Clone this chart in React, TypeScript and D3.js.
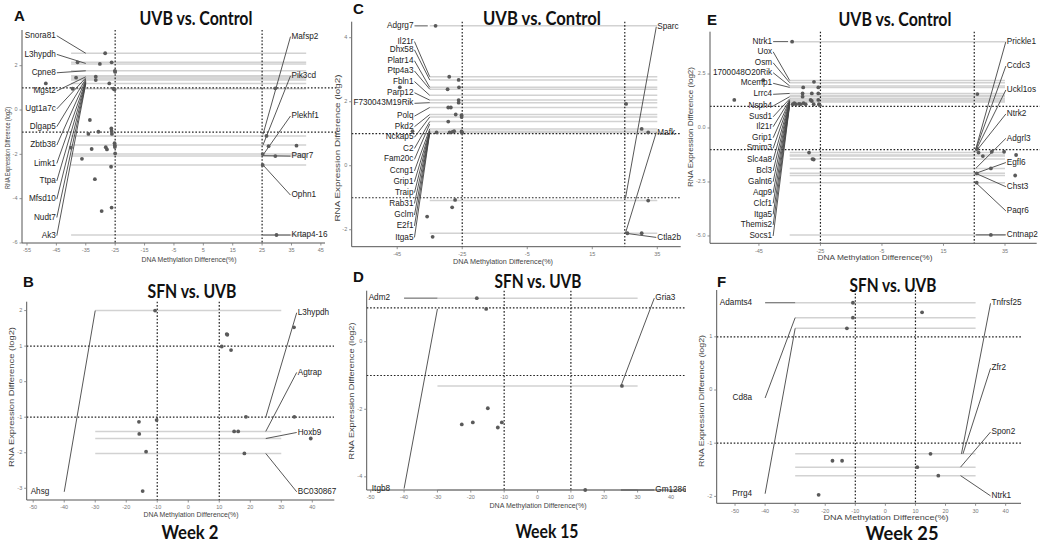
import React from 'react';
import * as d3 from 'd3';

type Pt = [number, number];
type Lab = [string, number, number, number]; // gene, label y, target x, target y

// ---------- Panel A (UVB vs. Control, week 2) ----------
const aPoints: Pt[] = [
  [-28.4, 2.56], [-37.8, 2.15], [-30.2, 2.08], [-26.2, 2.15], [-25.1, 1.77], [-25.0, 1.72],
  [-31.6, 1.5], [-31.6, 1.35], [-48.6, 1.2], [-27, 1.2], [-39.5, 0.96], [-25.6, 0.96],
  [-25.2, 0.92], [-38.3, 1.46], [-33.6, -0.45], [-34.1, -1.08], [-30.7, -0.98], [-26.3, -0.83],
  [-26.2, -0.95], [-26.1, -1.08], [-25.2, -1.5], [-25.1, -1.6], [-25.1, -1.67], [-40.1, -1.7],
  [-33, -1.76], [-28.2, -1.68], [-27.8, -1.78], [-25, -1.96], [-36.3, -2.2], [-26.4, -2.56],
  [-31.9, -3.12], [-29.6, -4.56], [-26.2, -4.4],
  [29.5, 0.98], [26.5, -1.17], [27.2, -1.63], [36.7, -1.61], [25.2, -1.99], [29.5, -2.08],
  [25.2, -2.48], [29.9, -5.64],
];
const aGuides = [2.56, 2.15, 2.08, 1.77, 1.55, 1.5, 1.45, 1.4, 1.35, 1.2, 0.96, -1.17, -1.58, -1.99, -2.08, -2.48, -5.64];
const aLeft: Lab[] = [
  ['Snora81', 3.35, -35, 2.56], ['L3hypdh', 2.51, -35, 2.1], ['Cpne8', 1.68, -35, 1.77],
  ['Mgst2', 0.86, -35, 1.5], ['Ugt1a7c', 0.05, -35, 1.45], ['Dlgap5', -0.75, -35, 1.4],
  ['Zbtb38', -1.58, -35, 1.35], ['Limk1', -2.41, -35, 1.3], ['Ttpa', -3.2, -35, 1.27],
  ['Mfsd10', -4.02, -35, 1.24], ['Nudt7', -4.85, -35, 1.21], ['Ak3', -5.67, -35, 1.18],
];
const aRight: Lab[] = [
  ['Mafsp2', 3.31, 25.3, -1.1], ['Pik3cd', 1.54, 25.3, -1.58], ['Plekhf1', -0.27, 25.3, -2.03],
  ['Paqr7', -2.08, 25.3, -2.06], ['Ophn1', -3.84, 25.3, -2.48], ['Krtap4-16', -5.64, 25.3, -5.64],
];
const aXTicks = [-55, -45, -35, -25, -15, -5, 5, 15, 25, 35, 45];
const aYTicks = [-6, -4, -2, 0, 2];

// ---------- Panel C (UVB vs. Control, week 15) ----------
const cPoints: Pt[] = [
  [-33.2, 4.37], [-29, 2.78], [-26.1, 2.68], [-29.5, 2.39], [-26, 2.45], [-26.1, 2.05],
  [-26.1, 1.97], [-29.3, 1.82], [-28.5, 1.82], [-27, 1.6], [-25.2, 1.58], [-25.2, 1.52],
  [-29.3, 1.38], [-44.2, 2.45], [-40.3, 1.08], [-32.9, 1.04], [-28.9, 1.04], [-28, 1.06],
  [-27.5, 1.08], [-25.2, 1.07], [-25, 1.03], [-27.2, -1.07], [-28.1, -1.3], [-35.8, -1.59],
  [-34.1, -2.22],
  [25.4, 1.93], [30.2, 1.15], [32.2, 1.04], [32.2, -1.09], [25.8, -2.11], [30.2, -2.11],
];
const cGuides = [4.37, 2.78, 2.68, 2.45, 2.39, 2.2, 2.05, 1.97, 1.82, 1.6, 1.52, 1.38, 1.15, 1.08, 1.04, -1.09, -2.11];
const cLeft: Lab[] = [
  ['Adgrg7', 4.37, -35.6, 4.37], ['Il21r', 3.88, -35, 2.78], ['Dhx58', 3.62, -35, 2.68],
  ['Platr14', 3.28, -35, 2.45], ['Ptp4a3', 2.96, -35, 2.39], ['Fbln1', 2.63, -35, 2.2],
  ['Parp12', 2.28, -35, 2.05], ['F730043M19Rik', 1.95, -35, 1.97], ['Polq', 1.55, -35, 1.82],
  ['Pkd2', 1.22, -35, 1.6], ['Nckap5', 0.89, -35, 1.52], ['C2', 0.54, -35, 1.38],
  ['Fam20c', 0.2, -35, 1.3], ['Ccng1', -0.16, -35, 1.15], ['Grip1', -0.5, -35, 1.1],
  ['Traip', -0.84, -35, 1.08], ['Rab31', -1.18, -35, 1.06], ['Gclm', -1.54, -35, 1.05],
  ['E2f1', -1.88, -35, 1.04], ['Itga5', -2.24, -35, 1.03],
];
const cRight: Lab[] = [
  ['Sparc', 4.34, 25.2, -1.02], ['Mafk', 1.04, 25.2, -2.11], ['Ctla2b', -2.24, 25.2, -2.11],
];
const cXTicks = [-45, -25, -5, 15, 35];
const cYTicks = [-2, 0, 2, 4];

// ---------- Panel E (UVB vs. Control, week 25) ----------
const ePoints: Pt[] = [
  [-34.2, 4.0], [-43.6, 2.22], [-53, 1.3], [-27.1, 2.14], [-25.7, 1.88], [-30.6, 1.88],
  [-27.8, 1.6], [-25.7, 1.6], [-30.8, 1.6], [-30.8, 1.45], [-28.2, 1.3], [-27.8, 1.25],
  [-25.7, 1.3], [-33.5, 1.15], [-32, 1.12], [-30.5, 1.15], [-34, 1.1], [-33, 1.1],
  [-31.5, 1.1], [-29.8, 1.1], [-27.2, 1.1], [-25.5, 1.1], [-25.2, 1.05],
  [-28.7, -1.14], [-27.6, -1.44], [-27.2, -1.46],
  [26, 1.57], [26, -0.97], [26.4, -1.14], [27.8, -1.3], [30.7, -1.1], [34.7, -1.1],
  [38.6, -1.25], [30.4, -1.87], [25.8, -2.1], [38.3, -2.2], [25.8, -2.53], [30.4, -4.95],
];
const eGuides = [4.0, 2.2, 2.1, 1.95, 1.88, 1.6, 1.5, 1.45, 1.35, 1.3, 1.25, 1.2, -1.14, -1.25, -1.3, -1.44, -1.87, -2.1, -2.2, -2.53, -4.95];
const eLeft: Lab[] = [
  ['Ntrk1', 4.0, -35.5, 4.0], ['Uox', 3.53, -35, 2.2], ['Osm', 3.02, -35, 2.1],
  ['1700048O20Rik', 2.56, -35, 1.95], ['Mcemp1', 2.07, -35, 1.88], ['Lrrc4', 1.56, -35, 1.6],
  ['Nsph4', 1.02, -35, 1.45], ['Susd1', 0.52, -35, 1.35], ['Il21r', 0.06, -35, 1.3],
  ['Grip1', -0.45, -35, 1.27], ['Smim3', -0.94, -35, 1.25], ['Slc4a8', -1.48, -35, 1.22],
  ['Bcl3', -1.99, -35, 1.2], ['Galnt6', -2.49, -35, 1.18], ['Aqp9', -3.0, -35, 1.16],
  ['Clcf1', -3.49, -35, 1.14], ['Itga5', -4.0, -35, 1.12], ['Themis2', -4.49, -35, 1.1],
  ['Socs1', -5.0, -35, 1.08],
];
const eRight: Lab[] = [
  ['Prickle1', 4.0, 25.5, -0.97], ['Ccdc3', 2.87, 25.5, -1.0], ['Uckl1os', 1.76, 25.5, -1.05],
  ['Ntrk2', 0.65, 25.5, -1.1], ['Adgrl3', -0.48, 25.5, -1.87], ['Egfl6', -1.6, 25.5, -2.1],
  ['Chst3', -2.72, 25.5, -2.1], ['Paqr6', -3.84, 25.5, -2.53], ['Cntnap2', -4.95, 25.5, -4.95],
];
const eXTicks = [-45, -25, -5, 15, 35];
const eYTicks = [-5, -2.5, 0, 2.5];

// ---------- Panel B (SFN vs. UVB, week 2) ----------
const bPoints: Pt[] = [
  [-10.7, 2.0], [12.4, 1.34], [12.6, 1.32], [10.8, 0.99], [13.8, 0.89], [34.1, 1.53],
  [18.6, -0.99], [34.2, -0.99], [39.5, -1.6], [-15.9, -1.13], [-10.2, -1.08], [-15.8, -1.47],
  [14.8, -1.4], [16.1, -1.4], [-13.6, -1.97], [18.1, -2.02], [-14.7, -3.08],
];
const bGuides = [2.0, -1.4, -1.6, -2.02];
const bLeft: Lab[] = [['Ahsg', -3.1, -30, 2.0]];
const bRight: Lab[] = [
  ['L3hypdh', 1.94, 25, -1.0], ['Agtrap', 0.26, 25, -1.4], ['Hoxb9', -1.43, 25, -1.6],
  ['BC030867', -3.1, 25, -2.02],
];
const bXTicks = [-50, -40, -30, -20, -10, 0, 10, 20, 30, 40];
const bYTicks = [-3, -2, -1, 0, 1, 2];

// ---------- Panel D (SFN vs. UVB, week 15) ----------
const dPoints: Pt[] = [
  [-18.2, 1.29], [-15.4, 0.97], [25.3, -1.31], [-14.9, -1.97], [-19.4, -2.39],
  [-22.7, -2.45], [-11.9, -2.54], [-10.7, -2.39], [14.3, -4.39],
];
const dGuides = [1.29, -1.31, -4.39];
const dLeft: Lab[] = [['Adm2', 1.29, -30, 1.29], ['Itgb8', -4.35, -30, 0.97]];
const dRight: Lab[] = [['Gria3', 1.29, 25, -1.31], ['Gm12866', -4.39, 25, -4.39]];
const dXTicks = [-50, -40, -30, -20, -10, 0, 10, 20, 30, 40];
const dYTicks = [-4, -2, 0];

// ---------- Panel F (SFN vs. UVB, week 25) ----------
const fPoints: Pt[] = [
  [-10.8, 1.64], [12.2, 1.46], [-10.8, 1.36], [-12.8, 1.16], [15, -1.2], [-17.6, -1.33],
  [-14.4, -1.33], [10.6, -1.45], [17.6, -1.61], [-22.2, -1.97],
];
const fGuides = [1.64, 1.36, 1.16, -1.2, -1.45, -1.61];
const fLeft: Lab[] = [['Adamts4', 1.64, -30, 1.64], ['Cd8a', -0.15, -30, 1.36], ['Prrg4', -1.95, -30, 1.16]];
const fRight: Lab[] = [
  ['Tnfrsf25', 1.63, 25.3, -1.2], ['Zfr2', 0.41, 25.8, -1.2], ['Spon2', -0.79, 25, -1.45],
  ['Ntrk1', -1.99, 25, -1.61],
];
const fXTicks = [-50, -40, -30, -20, -10, 0, 10, 20, 30, 40];
const fYTicks = [-2, -1, 0, 1];

// ---------- layout ----------
interface Cfg {
  id: string; letter: string; title: string; week?: string;
  px: [number, number]; py: [number, number];
  xDom: [number, number]; yDom: [number, number];
  xTicks: number[]; yTicks: number[]; yFmt: (v: number) => string;
  thr: number; hEnd: number; guideX: [number, number];
  leftTextX: number; leftSegX: number | null; rightTextX: number;
  points: Pt[]; guides: number[]; left: Lab[]; right: Lab[];
  titleXY: [number, number, number];
  letterXY: [number, number];
  xt: [number, number, number]; yt: [number, number, number];
  weekXY?: [number, number, number];
  clip: [number, number, number, number];
}

const intFmt = (v: number) => String(v);
const decFmt = (v: number) => v.toFixed(1);

const panels: Cfg[] = [
  {
    id: 'A', letter: 'A', title: 'UVB vs. Control', px: [22, 325], py: [30, 243],
    xDom: [-56.7, 46.4], yDom: [-6.0, 3.61], xTicks: aXTicks, yTicks: aYTicks, yFmt: intFmt,
    thr: 25, hEnd: 338, guideX: [-40, 40], leftTextX: -45.2, leftSegX: null, rightTextX: 35,
    points: aPoints, guides: aGuides, left: aLeft, right: aRight,
    titleXY: [196, 25, 113], letterXY: [14, 21], xt: [189, 260, 95], yt: [8, 148, 82],
    clip: [0, 0, 340, 270],
  },
  {
    id: 'C', letter: 'C', title: 'UVB vs. Control', px: [351.7, 680.7], py: [21.7, 246.7],
    xDom: [-59, 42.2], yDom: [-2.53, 4.5], xTicks: cXTicks, yTicks: cYTicks, yFmt: intFmt,
    thr: 25, hEnd: 681, guideX: [-35, 35], leftTextX: -40, leftSegX: null, rightTextX: 35,
    points: cPoints, guides: cGuides, left: cLeft, right: cRight,
    titleXY: [542, 25, 118], letterXY: [353, 13.5], xt: [503, 262, 100], yt: [338, 148, 147],
    clip: [333, 0, 352, 270],
  },
  {
    id: 'E', letter: 'E', title: 'UVB vs. Control', px: [710, 1036.7], py: [31.7, 243.3],
    xDom: [-60.9, 45.3], yDom: [-5.34, 4.46], xTicks: eXTicks, yTicks: eYTicks, yFmt: decFmt,
    thr: 25, hEnd: 1040, guideX: [-35, 35], leftTextX: -40.7, leftSegX: null, rightTextX: 35.6,
    points: ePoints, guides: eGuides, left: eLeft, right: eRight,
    titleXY: [895, 26, 113], letterXY: [707, 25], xt: [875, 258.5, 115], yt: [691, 127, 120],
    clip: [686, 0, 354, 270],
  },
  {
    id: 'B', letter: 'B', title: 'SFN vs. UVB', week: 'Week 2', px: [26.7, 334.3], py: [301.7, 500],
    xDom: [-52.1, 47.1], yDom: [-3.33, 2.25], xTicks: bXTicks, yTicks: bYTicks, yFmt: intFmt,
    thr: 10, hEnd: 334, guideX: [-30, 30], leftTextX: -44.8, leftSegX: -40, rightTextX: 35.3,
    points: bPoints, guides: bGuides, left: bLeft, right: bRight,
    titleXY: [192, 298, 89], letterXY: [23, 287], xt: [191, 515.5, 95], yt: [12, 397, 140],
    weekXY: [190, 539, 57], clip: [0, 270, 345, 273],
  },
  {
    id: 'D', letter: 'D', title: 'SFN vs. UVB', week: 'Week 15', px: [366.7, 690], py: [290.7, 490],
    xDom: [-51.2, 45.7], yDom: [-4.39, 1.51], xTicks: dXTicks, yTicks: dYTicks, yFmt: intFmt,
    thr: 10, hEnd: 690, guideX: [-30, 30], leftTextX: -44.2, leftSegX: -40, rightTextX: 35.3,
    points: dPoints, guides: dGuides, left: dLeft, right: dRight,
    titleXY: [538, 288, 87], letterXY: [353, 282], xt: [538, 506, 97], yt: [352, 391, 137],
    weekXY: [547, 538, 63], clip: [345, 270, 341, 273],
  },
  {
    id: 'F', letter: 'F', title: 'SFN vs. UVB', week: 'Week 25', px: [716.7, 1021], py: [290, 503.3],
    xDom: [-56.1, 45.1], yDom: [-2.13, 1.88], xTicks: fXTicks, yTicks: fYTicks, yFmt: intFmt,
    thr: 10, hEnd: 1021, guideX: [-30, 30], leftTextX: -44.3, leftSegX: -40, rightTextX: 35.3,
    points: fPoints, guides: fGuides, left: fLeft, right: fRight,
    titleXY: [893, 292, 87], letterXY: [717, 287], xt: [886, 518, 125], yt: [702, 401, 132],
    weekXY: [902, 540, 73], clip: [686, 270, 354, 273],
  },
];

const LABEL_FONT = '"Liberation Sans", Arial, sans-serif';
const TITLE_FONT = 'Lato, "Open Sans", sans-serif';

function Panel({ c }: { c: Cfg }) {
  const x = d3.scaleLinear().domain(c.xDom).range(c.px);
  const y = d3.scaleLinear().domain(c.yDom).range([c.py[1], c.py[0]]);
  const [L, R] = c.px;
  const [T, B] = c.py;
  const clipId = `clip-${c.id}`;
  const dash = '1.6 1.8';
  return (
    <g>
      <defs>
        <clipPath id={clipId}>
          <rect x={c.clip[0]} y={c.clip[1]} width={c.clip[2]} height={c.clip[3]} />
        </clipPath>
      </defs>
      <g clipPath={`url(#${clipId})`}>
        {c.guides.map((g, i) => (
          <line key={`g${i}`} x1={x(c.guideX[0])} x2={x(c.guideX[1])} y1={y(g)} y2={y(g)}
            stroke="#d2d2d2" strokeWidth={1.5} />
        ))}
        {[-c.thr, c.thr].map((t) => (
          <line key={`v${t}`} x1={x(t)} x2={x(t)} y1={T} y2={B} stroke="#222" strokeWidth={1.2} strokeDasharray={dash} />
        ))}
        {[-1, 1].map((t) => (
          <line key={`h${t}`} x1={L} x2={c.hEnd} y1={y(t)} y2={y(t)} stroke="#222" strokeWidth={1.2} strokeDasharray={dash} />
        ))}
        <line x1={L} x2={L} y1={T} y2={B} stroke="#555" strokeWidth={1} />
        <line x1={L} x2={R} y1={B} y2={B} stroke="#555" strokeWidth={1} />
        {c.xTicks.map((t) => (
          <g key={`xt${t}`}>
            <line x1={x(t)} x2={x(t)} y1={B} y2={B + 2.5} stroke="#777" strokeWidth={0.8} />
            <text x={x(t)} y={B + 8} fontSize={5.5} fill="#777" textAnchor="middle"
              dominantBaseline="middle" fontFamily={LABEL_FONT}>{t}</text>
          </g>
        ))}
        {c.yTicks.map((t) => (
          <g key={`yt${t}`}>
            <line x1={L - 2.5} x2={L} y1={y(t)} y2={y(t)} stroke="#777" strokeWidth={0.8} />
            <text x={L - 4.5} y={y(t)} fontSize={5.5} fill="#777" textAnchor="end"
              dominantBaseline="middle" fontFamily={LABEL_FONT}>{c.yFmt(t)}</text>
          </g>
        ))}
        {c.left.map(([g, ly, tx, ty]) => {
          const sx = c.leftSegX === null ? x(c.leftTextX) + 1 : x(c.leftSegX);
          return <line key={`ls${g}`} x1={sx} y1={y(ly)} x2={x(tx)} y2={y(ty)} stroke="#444" strokeWidth={0.9} />;
        })}
        {c.right.map(([g, ly, tx, ty]) => (
          <line key={`rs${g}`} x1={x(c.rightTextX) - 1} y1={y(ly)} x2={x(tx)} y2={y(ty)} stroke="#444" strokeWidth={0.9} />
        ))}
        {c.points.map(([px, py], i) => (
          <circle key={`p${i}`} cx={x(px)} cy={y(py)} r={1.9} fill="#5a5a5a" />
        ))}
        {c.left.map(([g, ly]) => (
          <text key={`lt${g}`} x={x(c.leftTextX)} y={y(ly)} fontSize={8.2} fill="#222" textAnchor="end"
            dominantBaseline="middle" fontFamily={LABEL_FONT}>{g}</text>
        ))}
        {c.right.map(([g, ly]) => (
          <text key={`rt${g}`} x={x(c.rightTextX)} y={y(ly)} fontSize={8.2} fill="#222" textAnchor="start"
            dominantBaseline="middle" fontFamily={LABEL_FONT}>{g}</text>
        ))}
        <text x={c.xt[0]} y={c.xt[1]} fontSize={7} fill="#444" textAnchor="middle" dominantBaseline="middle"
          fontFamily={LABEL_FONT} textLength={c.xt[2]} lengthAdjust="spacingAndGlyphs">DNA Methylation Difference(%)</text>
        <text transform={`translate(${c.yt[0]},${c.yt[1]}) rotate(-90)`} fontSize={7.5} fill="#444"
          textAnchor="middle" dominantBaseline="middle" fontFamily={LABEL_FONT}
          textLength={c.yt[2]} lengthAdjust="spacingAndGlyphs">RNA Expression Difference (log2)</text>
      </g>
      <text x={c.titleXY[0]} y={c.titleXY[1]} fontSize={18} fontWeight={700} fill="#111" textAnchor="middle"
        fontFamily={TITLE_FONT} textLength={c.titleXY[2]} lengthAdjust="spacingAndGlyphs">{c.title}</text>
      <text x={c.letterXY[0]} y={c.letterXY[1]} fontSize={15} fontWeight={700} fill="#111"
        fontFamily={LABEL_FONT}>{c.letter}</text>
      {c.week && c.weekXY && (
        <text x={c.weekXY[0]} y={c.weekXY[1]} fontSize={18} fontWeight={700} fill="#111" textAnchor="middle"
          fontFamily={TITLE_FONT} textLength={c.weekXY[2]} lengthAdjust="spacingAndGlyphs">{c.week}</text>
      )}
    </g>
  );
}

export default function App() {
  return (
    <svg width={1040} height={543} viewBox="0 0 1040 543"
      style={{ position: 'absolute', left: 0, top: 0, background: '#fff' }}>
      <rect x={0} y={0} width={1040} height={543} fill="#fff" />
      {panels.map((c) => <Panel key={c.id} c={c} />)}
    </svg>
  );
}
